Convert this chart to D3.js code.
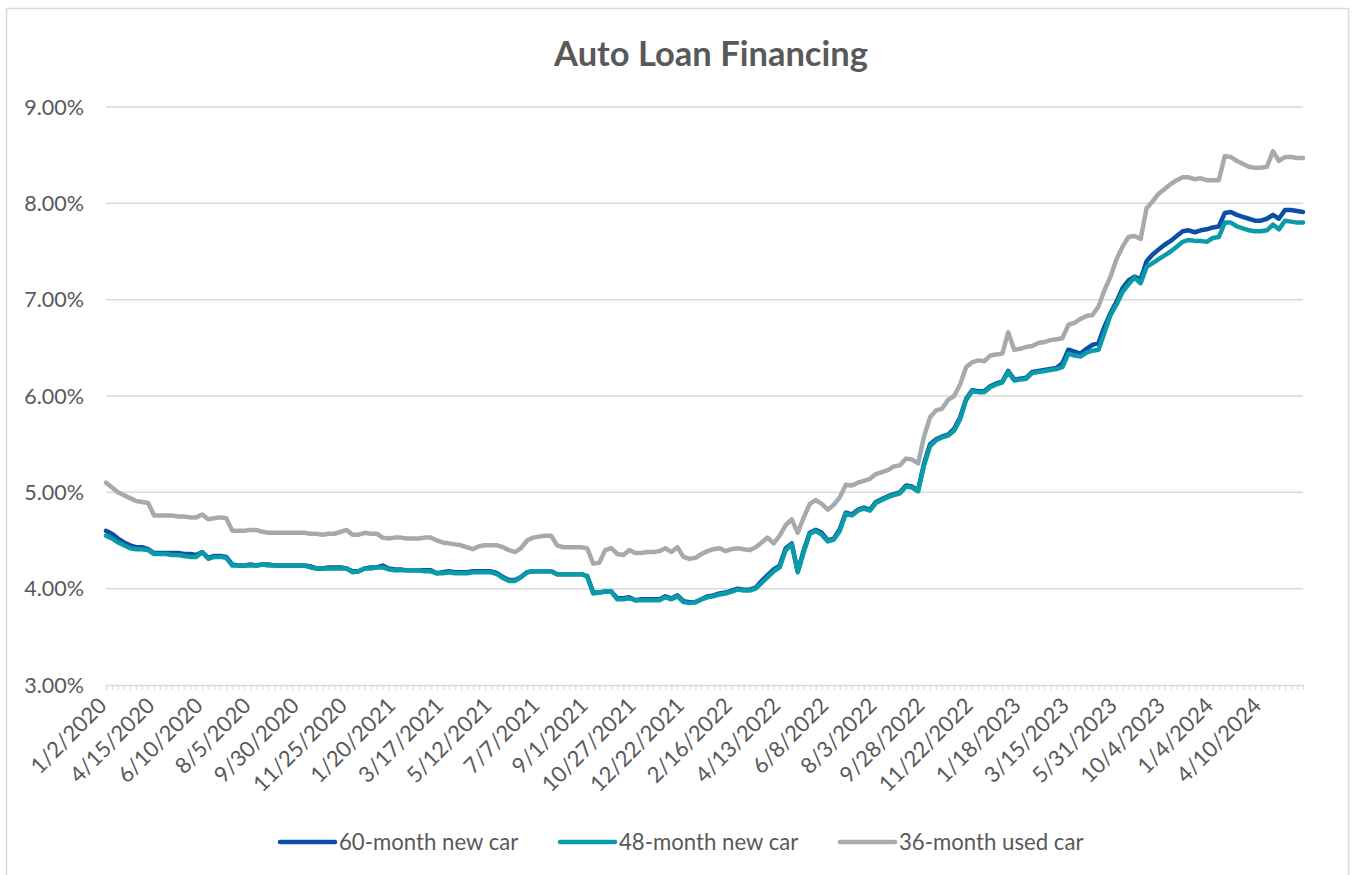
<!DOCTYPE html>
<html><head><meta charset="utf-8">
<script src="https://cdn.jsdelivr.net/npm/d3@7"></script>
<style>
body{margin:0;background:#fff;}
svg text{font-family:Lato,"Open Sans",sans-serif;fill:#595959;}
</style>
</head><body>
<svg id="chart" width="1352" height="875"></svg>
<script>
const chartTitle = "Auto Loan Financing";
const tickLabels = ["1/2/2020","4/15/2020","6/10/2020","8/5/2020","9/30/2020","11/25/2020","1/20/2021","3/17/2021","5/12/2021","7/7/2021","9/1/2021","10/27/2021","12/22/2021","2/16/2022","4/13/2022","6/8/2022","8/3/2022","9/28/2022","11/22/2022","1/18/2023","3/15/2023","5/31/2023","10/4/2023","1/4/2024","4/10/2024"];
const labelEvery = 8;
const yTicks = [3,4,5,6,7,8,9];
const seriesNames = ["60-month new car","48-month new car","36-month used car"];
const seriesColors = ["#0B4FA6","#0A9BA8","#A6AAAD"];

const rate60 = [
4.60,4.57,4.52,4.48,4.45,4.43,4.43,4.41,4.37,4.37,
4.37,4.37,4.37,4.36,4.36,4.35,4.38,4.32,4.34,4.34,
4.33,4.25,4.24,4.24,4.25,4.24,4.25,4.25,4.24,4.24,
4.24,4.24,4.24,4.24,4.23,4.21,4.21,4.22,4.22,4.22,
4.21,4.18,4.18,4.21,4.22,4.22,4.24,4.21,4.20,4.20,
4.19,4.19,4.19,4.19,4.19,4.16,4.17,4.18,4.17,4.17,
4.17,4.18,4.18,4.18,4.18,4.16,4.12,4.09,4.09,4.12,
4.17,4.18,4.18,4.18,4.18,4.15,4.15,4.15,4.15,4.15,
4.13,3.96,3.96,3.97,3.97,3.90,3.90,3.91,3.88,3.89,
3.89,3.89,3.89,3.92,3.90,3.93,3.87,3.86,3.86,3.89,
3.92,3.93,3.95,3.96,3.98,4.00,3.99,3.99,4.01,4.08,
4.14,4.20,4.24,4.42,4.47,4.18,4.40,4.58,4.61,4.58,
4.50,4.52,4.62,4.79,4.77,4.82,4.84,4.82,4.90,4.93,
4.96,4.98,5.00,5.07,5.06,5.02,5.30,5.50,5.55,5.58,
5.60,5.66,5.78,5.97,6.06,6.05,6.05,6.10,6.13,6.15,
6.26,6.17,6.18,6.19,6.25,6.26,6.27,6.28,6.29,6.34,
6.48,6.46,6.44,6.49,6.53,6.55,6.72,6.86,6.98,7.12,
7.20,7.24,7.21,7.40,7.47,7.52,7.57,7.61,7.66,7.71,
7.72,7.70,7.72,7.73,7.75,7.76,7.90,7.91,7.88,7.86,
7.84,7.82,7.82,7.84,7.88,7.84,7.93,7.93,7.92,7.91];

const rate48 = [
4.55,4.52,4.48,4.45,4.42,4.41,4.41,4.40,4.36,4.36,
4.36,4.35,4.35,4.34,4.33,4.33,4.38,4.31,4.33,4.33,
4.32,4.24,4.24,4.24,4.24,4.24,4.25,4.24,4.24,4.24,
4.24,4.24,4.24,4.24,4.22,4.21,4.21,4.21,4.21,4.21,
4.21,4.17,4.18,4.21,4.21,4.22,4.22,4.20,4.19,4.19,
4.19,4.19,4.19,4.18,4.18,4.16,4.16,4.17,4.16,4.16,
4.16,4.17,4.17,4.17,4.17,4.15,4.11,4.08,4.08,4.12,
4.17,4.18,4.18,4.18,4.18,4.15,4.15,4.15,4.15,4.15,
4.13,3.95,3.96,3.97,3.97,3.89,3.89,3.90,3.88,3.88,
3.88,3.88,3.88,3.91,3.89,3.92,3.86,3.85,3.86,3.89,
3.91,3.92,3.94,3.95,3.97,3.99,3.98,3.98,4.00,4.06,
4.12,4.18,4.22,4.40,4.46,4.17,4.38,4.57,4.60,4.56,
4.49,4.51,4.60,4.78,4.76,4.81,4.83,4.81,4.89,4.92,
4.95,4.97,4.99,5.06,5.05,5.01,5.28,5.48,5.54,5.57,
5.59,5.64,5.76,5.96,6.05,6.04,6.04,6.09,6.12,6.14,
6.25,6.16,6.17,6.18,6.24,6.25,6.26,6.27,6.28,6.30,
6.44,6.42,6.41,6.45,6.47,6.48,6.66,6.84,6.95,7.08,
7.16,7.23,7.17,7.34,7.38,7.42,7.46,7.50,7.55,7.60,
7.62,7.61,7.61,7.60,7.64,7.65,7.80,7.80,7.76,7.74,
7.72,7.71,7.71,7.72,7.78,7.73,7.82,7.81,7.80,7.80];

const rate36 = [
5.10,5.05,5.00,4.97,4.94,4.91,4.90,4.89,4.76,4.76,
4.76,4.76,4.75,4.75,4.74,4.74,4.77,4.72,4.73,4.74,
4.73,4.60,4.60,4.60,4.61,4.61,4.59,4.58,4.58,4.58,
4.58,4.58,4.58,4.58,4.57,4.57,4.56,4.57,4.57,4.59,
4.61,4.56,4.56,4.58,4.57,4.57,4.53,4.52,4.53,4.53,
4.52,4.52,4.52,4.53,4.53,4.50,4.48,4.47,4.46,4.45,
4.43,4.41,4.44,4.45,4.45,4.45,4.43,4.40,4.38,4.42,
4.50,4.53,4.54,4.55,4.55,4.45,4.43,4.43,4.43,4.43,
4.42,4.26,4.27,4.40,4.42,4.36,4.35,4.40,4.37,4.37,
4.38,4.38,4.39,4.42,4.38,4.43,4.33,4.31,4.32,4.36,
4.39,4.41,4.42,4.39,4.41,4.42,4.41,4.40,4.43,4.48,
4.53,4.47,4.55,4.66,4.72,4.58,4.74,4.88,4.92,4.88,
4.82,4.87,4.95,5.08,5.07,5.10,5.12,5.14,5.19,5.21,
5.23,5.27,5.28,5.35,5.34,5.30,5.58,5.78,5.85,5.87,
5.96,6.00,6.12,6.30,6.35,6.37,6.36,6.42,6.43,6.44,
6.66,6.48,6.49,6.51,6.52,6.55,6.56,6.58,6.59,6.60,
6.74,6.76,6.80,6.83,6.84,6.93,7.10,7.24,7.42,7.55,
7.65,7.66,7.63,7.95,8.02,8.10,8.15,8.20,8.24,8.27,
8.27,8.25,8.26,8.24,8.24,8.24,8.49,8.48,8.44,8.41,
8.38,8.37,8.37,8.38,8.54,8.44,8.48,8.48,8.47,8.47];

const seriesValues = [rate60, rate48, rate36];

const svg = d3.select("#chart");
const plotLeft = 106, plotRight = 1303, plotTop = 107, plotBottom = 685;

// chart border
svg.append("rect").attr("x",6.5).attr("y",8.5).attr("width",1342).attr("height",880)
  .attr("fill","none").attr("stroke","#d9d9d9").attr("stroke-width",1.5);

const idx = d3.range(rate60.length);
const x = d3.scalePoint().domain(idx).range([plotLeft, plotRight]);
const y = d3.scaleLinear().domain([3, 9]).range([plotBottom, plotTop]);

// gridlines
svg.append("g").selectAll("line").data(yTicks.filter(t => t > 3)).join("line")
  .attr("x1", plotLeft).attr("x2", plotRight)
  .attr("y1", d => y(d)).attr("y2", d => y(d))
  .attr("stroke","#d9d9d9").attr("stroke-width",1.5);

// y labels
svg.append("g").selectAll("text").data(yTicks).join("text")
  .attr("x", 84).attr("y", d => y(d)).attr("dy","0.36em")
  .attr("text-anchor","end").attr("font-size",21.5)
  .text(d => d.toFixed(2) + "%");

// x axis
const xAxis = d3.axisBottom(x).tickValues(idx).tickSize(5).tickFormat("");
const gx = svg.append("g").attr("transform", `translate(0,${plotBottom})`).call(xAxis);
gx.select(".domain").attr("stroke","#d9d9d9").attr("stroke-width",1.5);
gx.selectAll(".tick line").attr("stroke","#d9d9d9").attr("stroke-width",1);

// x labels
svg.append("g").selectAll("text").data(tickLabels).join("text")
  .attr("text-anchor","end").attr("font-size",22)
  .attr("transform", (d, i) => `translate(${x(i * labelEvery) + 2},${plotBottom + 22}) rotate(-45)`)
  .text(d => d);

// lines
const line = d3.line().x((d, i) => x(i)).y(d => y(d));
svg.append("g").selectAll("path").data(seriesValues).join("path")
  .attr("d", d => line(d))
  .attr("fill","none")
  .attr("stroke", (d, i) => seriesColors[i])
  .attr("stroke-width", 4.5)
  .attr("stroke-linejoin","round")
  .attr("stroke-linecap","round");

// title
svg.append("text").attr("x", 711).attr("y", 66).attr("text-anchor","middle")
  .attr("font-size", 34.5).attr("font-weight","bold").text(chartTitle);

// legend
const legendX = [280, 560, 840];
const lg = svg.append("g").selectAll("g").data(seriesNames).join("g")
  .attr("transform", (d, i) => `translate(${legendX[i]},842)`);
lg.append("line").attr("x1",0).attr("x2",55).attr("y1",0).attr("y2",0)
  .attr("stroke", (d, i) => seriesColors[i]).attr("stroke-width",4.5).attr("stroke-linecap","round");
lg.append("text").attr("x",59).attr("y",0).attr("dy","0.35em").attr("font-size",22.2).text(d => d);
</script>
</body></html>
